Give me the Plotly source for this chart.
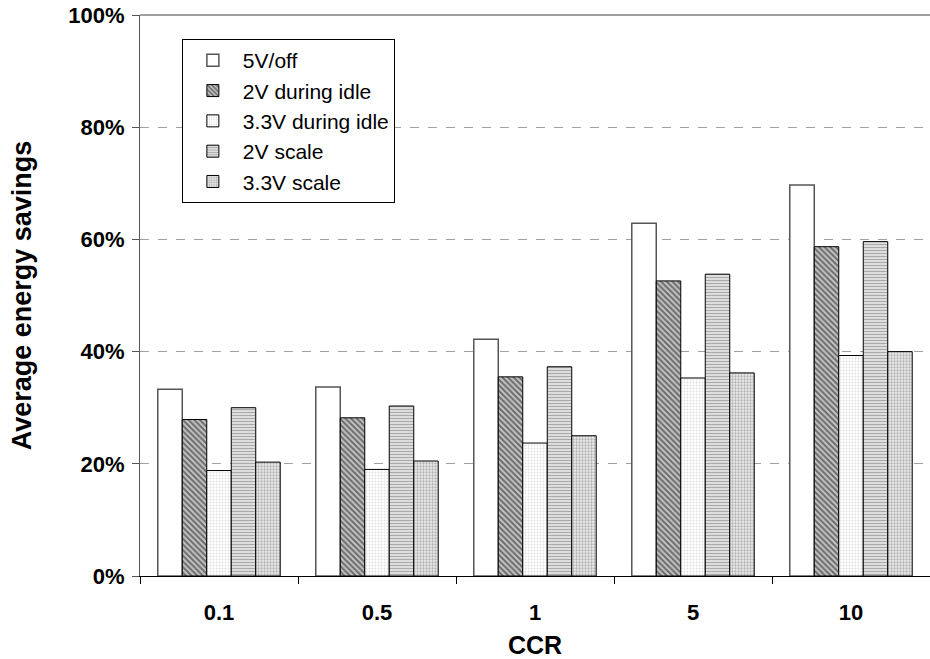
import plotly.graph_objects as go

categories = ["0.1", "0.5", "1", "5", "10"]
series_names = ["5V/off", "2V during idle", "3.3V during idle", "2V scale", "3.3V scale"]
v_5v_off = [33.3, 33.7, 42.2, 62.9, 69.7]
v_2v_idle = [27.9, 28.2, 35.5, 52.6, 58.7]
v_33v_idle = [18.8, 19.0, 23.7, 35.3, 39.3]
v_2v_scale = [30.0, 30.3, 37.3, 53.8, 59.6]
v_33v_scale = [20.3, 20.5, 25.0, 36.2, 40.0]
y_ticks = [0, 20, 40, 60, 80, 100]
y_tick_labels = ["0%", "20%", "40%", "60%", "80%", "100%"]

series_values = [v_5v_off, v_2v_idle, v_33v_idle, v_2v_scale, v_33v_scale]

styles = [
    dict(color="white", line=dict(color="#555555", width=1.5)),
    dict(color="#c4c4c4", line=dict(color="black", width=1),
         pattern=dict(shape="\\", fgcolor="#111111", bgcolor="#c4c4c4", size=4, solidity=0.5)),
    dict(color="white", line=dict(color="black", width=1),
         pattern=dict(shape=".", fgcolor="#c0c0c0", bgcolor="white", size=3, solidity=0.3)),
    dict(color="white", line=dict(color="black", width=1),
         pattern=dict(shape="-", fgcolor="#555555", bgcolor="white", size=3, solidity=0.6)),
    dict(color="#e6e6e6", line=dict(color="black", width=1),
         pattern=dict(shape=".", fgcolor="#777777", bgcolor="#ececec", size=3, solidity=0.45)),
]

FONT = "Liberation Sans, Arial, sans-serif"

fig = go.Figure()
for name, vals, st in zip(series_names, series_values, styles):
    fig.add_trace(go.Bar(x=categories, y=vals, name=name, marker=st))

fig.update_layout(
    width=930, height=659,
    margin=dict(l=140, r=0, t=15, b=83),
    paper_bgcolor="white", plot_bgcolor="white",
    barmode="group", bargap=0.225, bargroupgap=0,
    font=dict(family=FONT, color="black"),
    legend=dict(
        x=0.053, y=0.957, xanchor="left", yanchor="top",
        bordercolor="black", borderwidth=1, bgcolor="white",
        font=dict(family=FONT, size=21, color="black"),
        traceorder="normal",
        itemwidth=50,
    ),
    xaxis=dict(
        type="category", showline=True, linecolor="black", linewidth=1,
        ticks="outside", tickson="boundaries", ticklen=7, tickcolor="black",
        tickfont=dict(family=FONT, size=22, weight="bold"),
        ticklabelstandoff=17,
        title=dict(text="CCR", font=dict(family=FONT, size=25, weight="bold"), standoff=14),
        showgrid=False,
    ),
    yaxis=dict(
        range=[0, 100], tickvals=y_ticks, ticktext=y_tick_labels,
        showline=True, linecolor="#555555", linewidth=1,
        ticks="outside", ticklen=7, tickcolor="#555555",
        tickfont=dict(family=FONT, size=22, weight="bold"),
        ticklabelstandoff=3,
        showgrid=True, gridcolor="#a0a0a0", griddash="dash", gridwidth=1,
        zeroline=False,
        title=dict(text="Average energy savings", font=dict(family=FONT, size=27, weight="bold"), standoff=28),
    ),
    shapes=[dict(type="line", xref="paper", yref="paper", x0=0, x1=1, y0=1, y1=1,
                 line=dict(color="#808080", width=1.5), layer="above")],
)

fig.write_html("out.html")
